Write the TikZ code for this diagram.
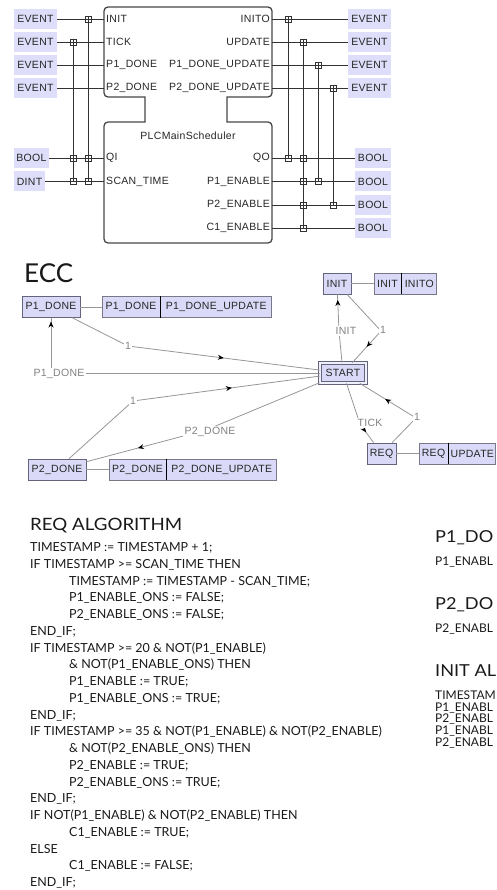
\documentclass[tikz,border=0pt]{standalone}
\usepackage{fontspec}
\setmainfont{Liberation Sans}
\newfontfamily\fbf{Liberation Sans}[LetterSpace=3]
\newfontfamily\gill{Lato}
\newfontfamily\gillw{Lato}[FakeStretch=1.1]
\usetikzlibrary{arrows.meta,decorations.markings}
\definecolor{lav}{RGB}{222,222,250}
\definecolor{statefill}{RGB}{218,218,248}
\definecolor{stateborder}{RGB}{100,100,125}
\definecolor{actborder}{RGB}{120,120,135}
\definecolor{fbedge}{RGB}{70,70,70}
\definecolor{wirec}{RGB}{50,50,50}
\definecolor{lgray}{RGB}{150,150,150}
\definecolor{tgray}{RGB}{130,130,130}
\begin{document}
\begin{tikzpicture}[x=1pt,y=-1pt,
  fbtxt/.style={font=\fbf\fontsize{10.5}{12}\selectfont, inner sep=0pt, text=black!85},
  typebox/.style={fbtxt, fill=lav, minimum height=20pt},
  jbox/.style={draw=wirec, line width=0.7pt, minimum size=6pt, inner sep=0pt},
  wire/.style={draw=wirec, line width=0.7pt},
  fbline/.style={draw=fbedge, line width=1.3pt},
  state/.style={fbtxt, draw=stateborder, fill=statefill, line width=0.8pt, minimum height=20.5pt},
  act/.style={fbtxt, draw=actborder, fill=statefill, line width=0.8pt, minimum height=20.5pt},
  trans/.style={draw=lgray, line width=0.8pt},
  tlabel/.style={fbtxt, text=tgray, fill=white, inner sep=1.5pt},
  midarr/.style={postaction={decorate}, decoration={markings, mark=at position #1 with {\arrow[black]{Stealth[length=6pt,width=5pt]}}}},
  code/.style={font=\gill\fontsize{12.5}{15}\selectfont, inner sep=0pt, anchor=base west, text=black!90},
  codes/.style={font=\gill\fontsize{12}{13}\selectfont, inner sep=0pt, anchor=base west, text=black!90},
  head/.style={font=\gillw\fontsize{17}{20}\selectfont, inner sep=0pt, anchor=base west, text=black!90},
  heads/.style={font=\gillw\fontsize{16.5}{20}\selectfont, inner sep=0pt, anchor=base west, text=black!90},
]
\useasboundingbox (0,0) rectangle (496,890);

% ---------------- Function block ----------------
\draw[fbline] (145,97) -- (124,97) [rounded corners=4pt] -- (104,97) -- (104,7) -- (272,7) -- (272,97) -- (250,97)
  [sharp corners] -- (227,97) -- (227,122) -- (250,122) [rounded corners=4pt] -- (272,122) -- (272,243) -- (104,243) -- (104,122) -- (124,122)
  [sharp corners] -- (145,122) -- cycle;

\node[fbtxt] (fbname) at (188,136) {PLCMainScheduler};
% input pins
\node[fbtxt, anchor=west] (pINIT) at (106,19) {INIT};
\node[fbtxt, anchor=west] (pTICK) at (106,42) {TICK};
\node[fbtxt, anchor=west] (pP1D) at (106,65) {P1\_DONE};
\node[fbtxt, anchor=west] (pP2D) at (106,88) {P2\_DONE};
\node[fbtxt, anchor=west] (pQI) at (106,158) {QI};
\node[fbtxt, anchor=west] (pST) at (106,181.5) {SCAN\_TIME};
% output pins
\node[fbtxt, anchor=east] (pINITO) at (270,19) {INITO};
\node[fbtxt, anchor=east] (pUPD) at (270,42) {UPDATE};
\node[fbtxt, anchor=east] (pP1U) at (270,65) {P1\_DONE\_UPDATE};
\node[fbtxt, anchor=east] (pP2U) at (270,88) {P2\_DONE\_UPDATE};
\node[fbtxt, anchor=east] (pQO) at (270,158) {QO};
\node[fbtxt, anchor=east] (pP1E) at (270,181.5) {P1\_ENABLE};
\node[fbtxt, anchor=east] (pP2E) at (270,205) {P2\_ENABLE};
\node[fbtxt, anchor=east] (pC1E) at (270,228) {C1\_ENABLE};

\coordinate (iINIT) at (104,19);
\coordinate (iTICK) at (104,42);
\coordinate (iP1D) at (104,65);
\coordinate (iP2D) at (104,88);
\coordinate (iQI) at (104,158);
\coordinate (iST) at (104,181.5);
\coordinate (oINITO) at (272,19);
\coordinate (oUPD) at (272,42);
\coordinate (oP1U) at (272,65);
\coordinate (oP2U) at (272,88);
\coordinate (oQO) at (272,158);
\coordinate (oP1E) at (272,181.5);
\coordinate (oP2E) at (272,205);
\coordinate (oC1E) at (272,228);

% type boxes
\node[typebox, minimum width=43pt] (tL1) at (35.5,19) {EVENT};
\node[typebox, minimum width=43pt] (tL2) at (35.5,42) {EVENT};
\node[typebox, minimum width=43pt] (tL3) at (35.5,65) {EVENT};
\node[typebox, minimum width=43pt] (tL4) at (35.5,88) {EVENT};
\node[typebox, minimum width=35pt] (tL5) at (31.5,158) {BOOL};
\node[typebox, minimum width=31pt] (tL6) at (29.5,181.5) {DINT};
\node[typebox, minimum width=43pt] (tR1) at (369.5,19) {EVENT};
\node[typebox, minimum width=43pt] (tR2) at (369.5,42) {EVENT};
\node[typebox, minimum width=43pt] (tR3) at (369.5,65) {EVENT};
\node[typebox, minimum width=43pt] (tR4) at (369.5,88) {EVENT};
\node[typebox, minimum width=36pt] (tR5) at (373,158) {BOOL};
\node[typebox, minimum width=36pt] (tR6) at (373,181.5) {BOOL};
\node[typebox, minimum width=36pt] (tR7) at (373,205) {BOOL};
\node[typebox, minimum width=36pt] (tR8) at (373,228) {BOOL};

% wires
\draw[wire] (tL1.east) -- (iINIT);
\draw[wire] (tL2.east) -- (iTICK);
\draw[wire] (tL3.east) -- (iP1D);
\draw[wire] (tL4.east) -- (iP2D);
\draw[wire] (tL5.east) -- (iQI);
\draw[wire] (tL6.east) -- (iST);
\draw[wire] (oINITO) -- (tR1.west);
\draw[wire] (oUPD) -- (tR2.west);
\draw[wire] (oP1U) -- (tR3.west);
\draw[wire] (oP2U) -- (tR4.west);
\draw[wire] (oQO) -- (tR5.west);
\draw[wire] (oP1E) -- (tR6.west);
\draw[wire] (oP2E) -- (tR7.west);
\draw[wire] (oC1E) -- (tR8.west);

% with-associations
\node[jbox] (jA1) at (88,19) {};
\node[jbox] (jB1) at (73,42) {};
\node[jbox] (jA2) at (88,158) {};
\node[jbox] (jB2) at (73,158) {};
\node[jbox] (jA3) at (88,181.5) {};
\node[jbox] (jB3) at (73,181.5) {};
\node[jbox] (jC1) at (288,19) {};
\node[jbox] (jD1) at (303,42) {};
\node[jbox] (jE1) at (318,65) {};
\node[jbox] (jF1) at (333,88) {};
\node[jbox] (jC2) at (288,158) {};
\node[jbox] (jD2) at (303,158) {};
\node[jbox] (jD3) at (303,181.5) {};
\node[jbox] (jE2) at (318,181.5) {};
\node[jbox] (jD4) at (303,205) {};
\node[jbox] (jF2) at (333,205) {};
\node[jbox] (jD5) at (303,228) {};
\draw[wire] (jA1.north) -- (jA3.center);
\draw[wire] (jB1.north) -- (jB3.center);
\draw[wire] (jC1.north) -- (jC2.center);
\draw[wire] (jD1.north) -- (jD5.center);
\draw[wire] (jE1.north) -- (jE2.center);
\draw[wire] (jF1.north) -- (jF2.center);

% ---------------- ECC ----------------
\node[font=\gill\fontsize{26}{30}\selectfont, anchor=base west, inner sep=0pt, text=black!90] (ecc) at (24,283) {ECC};

\node[state, minimum width=58pt] (sP1) at (51,307) {P1\_DONE};
\node[act, minimum width=58pt] (aP1a) at (131,307) {P1\_DONE};
\node[act, minimum width=111pt, anchor=west] (aP1b) at (aP1a.east) {P1\_DONE\_UPDATE};
\draw[black, line width=0.8pt] (aP1a.north east) -- (aP1a.south east);
\draw[trans] (sP1) -- (aP1a);

\node[state, minimum width=28pt, minimum height=21pt] (sINIT) at (337,283.5) {INIT};
\node[act, minimum width=27pt, minimum height=21pt] (aINa) at (387.5,283.5) {INIT};
\node[act, minimum width=35pt, minimum height=21pt, anchor=west] (aINb) at (aINa.east) {INITO};
\draw[black, line width=0.8pt] (aINa.north east) -- (aINa.south east);
\draw[trans] (sINIT) -- (aINa);

\node[state, minimum width=46pt, minimum height=20pt, double=statefill!40!white, double distance=1.5pt] (sSTART) at (343,373) {START};

\node[state, minimum width=29pt, minimum height=21pt] (sREQ) at (381.5,453.5) {REQ};
\node[act, minimum width=29pt, minimum height=21pt] (aRQa) at (433.5,453.5) {REQ};
\node[act, minimum width=47pt, minimum height=21pt, anchor=west] (aRQb) at (aRQa.east) {UPDATE};
\draw[black, line width=0.8pt] (aRQa.north east) -- (aRQa.south east);
\draw[trans] (sREQ) -- (aRQa);

\node[state, minimum width=58pt, minimum height=21pt] (sP2) at (57,469.5) {P2\_DONE};
\node[act, minimum width=57pt, minimum height=21pt] (aP2a) at (137.5,469.5) {P2\_DONE};
\node[act, minimum width=110pt, minimum height=21pt, anchor=west] (aP2b) at (aP2a.east) {P2\_DONE\_UPDATE};
\draw[black, line width=0.8pt] (aP2a.north east) -- (aP2a.south east);
\draw[trans] (sP2) -- (aP2a);

\coordinate (k1) at (128,346);
\coordinate (k2) at (51,373);
\coordinate (k3) at (206,430);
\coordinate (k4) at (133,401);
\coordinate (k5) at (339,331);
\coordinate (k6) at (381,331);
\coordinate (k7) at (360,424);
\coordinate (k8) at (416,418);

\draw[trans] (sP1) -- (k1);
\draw[trans, midarr=0.5] (k1) -- (sSTART);
\draw[trans] (sSTART) -- (k2);
\draw[trans, midarr=0.93] (k2) -- (sP1);
\draw[trans] (sSTART) -- (k3);
\draw[trans, midarr=0.57] (k3) -- (sP2);
\draw[trans] (sP2) -- (k4);
\draw[trans, midarr=0.53] (k4) -- (sSTART);
\draw[trans] (sSTART) -- (k5);
\draw[trans, midarr=0.85] (k5) -- (sINIT);
\draw[trans] (sINIT) -- (k6);
\draw[trans, midarr=0.5] (k6) -- (sSTART);
\draw[trans] (sSTART) -- (k7);
\draw[trans, midarr=0.45] (k7) -- (sREQ);
\draw[trans] (sREQ) -- (k8);
\draw[trans, midarr=0.55] (k8) -- (sSTART);

\node[tlabel] (l1) at (128,346) {1};
\node[tlabel] (l2) at (59,374) {P1\_DONE};
\node[tlabel] (l3) at (210,432) {P2\_DONE};
\node[tlabel] (l4) at (133,401) {1};
\node[tlabel] (l5) at (346,331) {INIT};
\node[tlabel] (l6) at (383,330) {1};
\node[tlabel] (l7) at (370,423) {TICK};
\node[tlabel] (l8) at (417,417) {1};

% ---------------- REQ algorithm ----------------
\node[head] (hreq) at (30,530) {REQ ALGORITHM};
\node[code] (r1) at (30,551.5) {TIMESTAMP := TIMESTAMP + 1;};
\node[code] (r2) at (30,568.25) {IF TIMESTAMP >= SCAN\_TIME THEN};
\node[code] (r3) at (69,585) {TIMESTAMP := TIMESTAMP - SCAN\_TIME;};
\node[code] (r4) at (69,601.75) {P1\_ENABLE\_ONS := FALSE;};
\node[code] (r5) at (69,618.5) {P2\_ENABLE\_ONS := FALSE;};
\node[code] (r6) at (30,635.25) {END\_IF;};
\node[code] (r7) at (30,652) {IF TIMESTAMP >= 20 \& NOT(P1\_ENABLE)};
\node[code] (r8) at (69,668.75) {\& NOT(P1\_ENABLE\_ONS) THEN};
\node[code] (r9) at (69,685.5) {P1\_ENABLE := TRUE;};
\node[code] (r10) at (69,702.25) {P1\_ENABLE\_ONS := TRUE;};
\node[code] (r11) at (30,719) {END\_IF;};
\node[code] (r12) at (30,735.75) {IF TIMESTAMP >= 35 \& NOT(P1\_ENABLE) \& NOT(P2\_ENABLE)};
\node[code] (r13) at (69,752.5) {\& NOT(P2\_ENABLE\_ONS) THEN};
\node[code] (r14) at (69,769.25) {P2\_ENABLE := TRUE;};
\node[code] (r15) at (69,786) {P2\_ENABLE\_ONS := TRUE;};
\node[code] (r16) at (30,802.75) {END\_IF;};
\node[code] (r17) at (30,819.5) {IF NOT(P1\_ENABLE) \& NOT(P2\_ENABLE) THEN};
\node[code] (r18) at (69,836.25) {C1\_ENABLE := TRUE;};
\node[code] (r19) at (30,853) {ELSE};
\node[code] (r20) at (69,869.75) {C1\_ENABLE := FALSE;};
\node[code] (r21) at (30,886.5) {END\_IF;};

% ---------------- right column (as far as the picture shows it) ----------------
\node[heads] (hp1) at (435,542) {P1\_DO};
\node[codes] (q1) at (435,565.5) {P1\_ENABL};
\node[heads] (hp2) at (435,609) {P2\_DO};
\node[codes] (q2) at (435,632.5) {P2\_ENABL};
\node[heads] (hin) at (435,676) {INIT AL};
\node[codes] (q3) at (435,699.5) {TIMESTAM};
\node[codes] (q4) at (435,711) {P1\_ENABL};
\node[codes] (q5) at (435,722.5) {P2\_ENABL};
\node[codes] (q6) at (435,734) {P1\_ENABL};
\node[codes] (q7) at (435,746) {P2\_ENABL};
\end{tikzpicture}
\end{document}
